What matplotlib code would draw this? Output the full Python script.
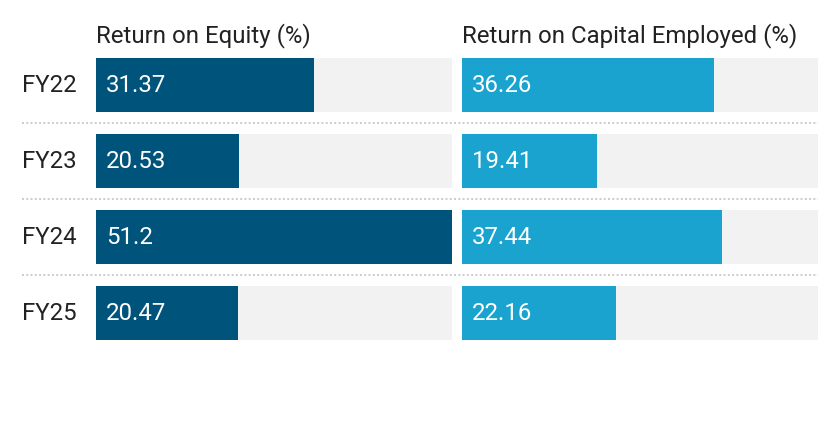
import numpy as np
import matplotlib.pyplot as plt

plt.rcParams['font.family'] = ['Roboto', 'DejaVu Sans']

# data
years = ["FY22", "FY23", "FY24", "FY25"]
roe = [31.37, 20.53, 51.2, 20.47]
roce = [36.26, 19.41, 37.44, 22.16]
titles = ["Return on Equity (%)", "Return on Capital Employed (%)"]
colors = ["#00537a", "#1aa3cf"]

W, H = 840, 426
FS = 17.3
fig = plt.figure(figsize=(W / 100, H / 100), dpi=100)

vmax = max(max(roe), max(roce))
bar_h = 54 / 76
y = np.arange(len(years))
ylim = (len(years) - 1 + bar_h / 2, -bar_h / 2)
bottom = 1 - 340 / H
height = 282 / H

# background axes for separators and row labels
bg = fig.add_axes([22 / W, bottom, (818 - 22) / W, height])
bg.set_xlim(0, 1)
bg.set_ylim(*ylim)
bg.axis("off")
for sep in y[:-1] + 0.5:
    bg.axhline(sep, color="#cccccc", lw=1.4, ls=(0, (1, 1.2)))
for yi, lab in zip(y, years):
    bg.text(0, yi, lab, ha="left", va="center", fontsize=FS, color="#222222")

for i, (vals, title, col) in enumerate(zip([roe, roce], titles, colors)):
    left = (96 if i == 0 else 462) / W
    ax = fig.add_axes([left, bottom, 356 / W, height])
    ax.barh(y, [vmax] * len(y), height=bar_h, color="#f2f2f2")
    ax.barh(y, vals, height=bar_h, color=col)
    for yi, v in zip(y, vals):
        ax.text(vmax * 0.028, yi, f"{v:g}", ha="left", va="center",
                fontsize=FS, color="white")
    ax.set_xlim(0, vmax)
    ax.set_ylim(*ylim)
    ax.axis("off")
    ax.text(0, 1 + 10 / 282, title, transform=ax.transAxes, ha="left",
            va="bottom", fontsize=FS, color="#222222")

fig.savefig("out.png", dpi=100, facecolor="white")
